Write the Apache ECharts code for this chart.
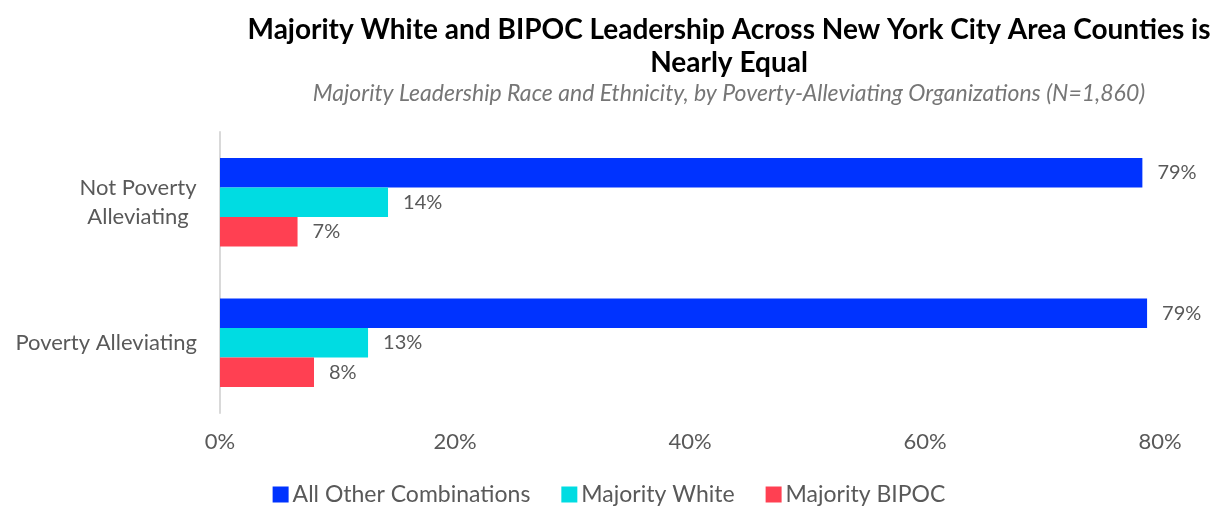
<!DOCTYPE html>
<html>
<head>
<meta charset="utf-8">
<script src="https://cdn.jsdelivr.net/npm/echarts@6/dist/echarts.min.js"></script>
<style>
html,body{margin:0;padding:0;background:#fff;}
#chart{width:1218px;height:508px;}
</style>
</head>
<body>
<div id="chart"></div>
<script>
const categories = ['Not Poverty\nAlleviating', 'Poverty Alleviating'];
const seriesNames = ['All Other Combinations', 'Majority White', 'Majority BIPOC'];
const allOther = [78.5, 78.9];
const majWhite = [14.3, 12.6];
const majBipoc = [6.6, 8.0];
const xTicks = [0, 20, 40, 60, 80];
const colors = ['#0033FF', '#00DCE2', '#FF4052'];
const FONT = 'Lato';
const values = [allOther, majWhite, majBipoc];

const chart = echarts.init(document.getElementById('chart'));
chart.setOption({
  backgroundColor: '#fff',
  animation: false,
  title: [{
    text: 'Majority White and BIPOC Leadership Across New York City Area Counties is\nNearly Equal',
    left: 724, top: 8, textAlign: 'center',
    textStyle: {fontFamily: FONT, fontWeight: 'bold', fontSize: 28, lineHeight: 33, color: '#000'}
  }, {
    text: 'Majority Leadership Race and Ethnicity, by Poverty-Alleviating Organizations (N=1,860)',
    left: 724, top: 77, textAlign: 'center',
    textStyle: {fontFamily: FONT, fontStyle: 'italic', fontWeight: 'normal', fontSize: 23, color: '#767676'}
  }],
  legend: {
    data: seriesNames,
    left: 'center', top: 483, padding: 0,
    itemWidth: 16, itemHeight: 16, itemGap: 31,
    icon: 'rect',
    textStyle: {fontFamily: FONT, fontSize: 23, color: '#595959', padding: [0,0,0,-1]}
  },
  grid: {left: 220, right: 58, top: 132, bottom: 95, containLabel: false},
  xAxis: {
    type: 'value', min: 0, max: 80, interval: 20,
    axisLine: {show: false}, axisTick: {show: false}, splitLine: {show: false},
    axisLabel: {formatter: v => xTicks.includes(v) ? v + '%' : '', fontFamily: FONT, fontSize: 22, color: '#595959', margin: 18}
  },
  yAxis: {
    type: 'category', data: categories, inverse: true,
    axisLine: {show: true, lineStyle: {color: '#D9D9D9', width: 2}},
    axisTick: {show: false},
    axisLabel: {fontFamily: FONT, fontSize: 22, color: '#595959', margin: 23, lineHeight: 29, align: 'right',
      formatter: v => v.includes('\n') ? v.split('\n').map(s => '{c|' + s + '}').join('\n') : v,
      rich: {c: {fontFamily: FONT, fontSize: 22, color: '#595959', lineHeight: 29, width: 118, align: 'center'}}},
    splitLine: {show: false}
  },
  series: seriesNames.map((n, i) => ({
    name: n, type: 'bar', data: values[i],
    barGap: '0%', barCategoryGap: '37%',
    itemStyle: {color: colors[i]},
    label: {show: true, position: 'right', distance: 15, formatter: p => Math.round(p.value) + '%',
      fontFamily: FONT, fontSize: 20, color: '#595959'}
  }))
});
</script>
</body>
</html>
